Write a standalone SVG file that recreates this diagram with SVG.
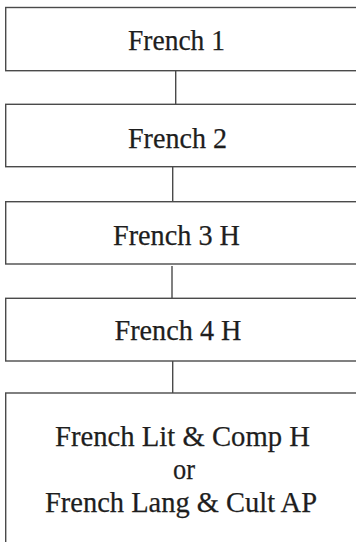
<svg xmlns="http://www.w3.org/2000/svg" width="356" height="542" viewBox="0 0 356 542">
<style>
.box{fill:#fff;stroke:#4a4a4a;stroke-width:1.4}
.con{stroke:#4a4a4a;stroke-width:1.4;fill:none}
.t{font-family:'Times New Roman','Nimbus Roman','Nimbus Roman No9 L','FreeSerif','Noto Serif','DejaVu Serif',serif;font-size:30px;fill:#1e1e1e;stroke:#1e1e1e;stroke-width:0.25;text-anchor:middle}
</style>
<rect width="356" height="542" fill="#fff"/>
<g id="connectors">
<line class="con" x1="175.7" y1="70.7" x2="175.7" y2="104.3"/>
<line class="con" x1="172.7" y1="166.7" x2="172.7" y2="201.7"/>
<line class="con" x1="172" y1="266" x2="172" y2="298.3"/>
<line class="con" x1="172.7" y1="361" x2="172.7" y2="393"/>
</g>
<g id="n1"><rect class="box" x="5.7" y="7.5" width="360" height="63.2"/><text class="t" x="176.5" y="49.5" textLength="97" lengthAdjust="spacingAndGlyphs">French 1</text></g>
<g id="n2"><rect class="box" x="5.7" y="104.3" width="360" height="62.4"/><text class="t" x="177.5" y="148.3" textLength="99" lengthAdjust="spacingAndGlyphs">French 2</text></g>
<g id="n3"><rect class="box" x="5.7" y="201.7" width="360" height="62.3"/><text class="t" x="176.5" y="245" textLength="127" lengthAdjust="spacingAndGlyphs">French 3 H</text></g>
<g id="n4"><rect class="box" x="5.7" y="298.3" width="360" height="62.7"/><text class="t" x="178" y="340" textLength="127" lengthAdjust="spacingAndGlyphs">French 4 H</text></g>
<g id="n5"><rect class="box" x="5.7" y="393" width="360" height="160"/>
<text class="t" x="182.5" y="446" textLength="255" lengthAdjust="spacingAndGlyphs">French Lit &amp; Comp H</text>
<text class="t" x="184" y="479" textLength="22" lengthAdjust="spacingAndGlyphs">or</text>
<text class="t" x="181" y="512" textLength="272" lengthAdjust="spacingAndGlyphs">French Lang &amp; Cult AP</text>
</g>
</svg>
